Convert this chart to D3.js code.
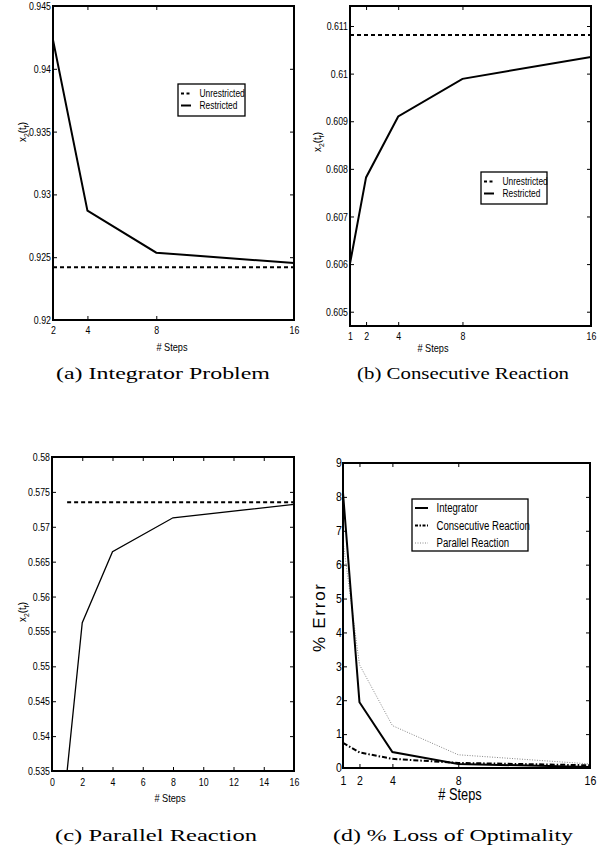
<!DOCTYPE html>
<html><head><meta charset="utf-8">
<script src="https://cdn.jsdelivr.net/npm/d3@7"></script>
<style>
body{margin:0;background:#fff;}
svg{display:block;}
</style></head>
<body>
<svg id="chart" width="600" height="849"></svg>
<script>
// ---------- DATA ----------
// (a) Integrator Problem
const stepsA = [2, 4, 8, 16];
const restrictedA = [0.9423, 0.9287, 0.92536, 0.92454];
const unrestrictedA = [0.9242, 0.9242];
const unrestrictedStepsA = [2, 16];
const xTicksA = [2, 4, 8, 16];
const yTicksA = [0.92, 0.925, 0.93, 0.935, 0.94, 0.945];
const yTickLabelsA = ["0.92", "0.925", "0.93", "0.935", "0.94", "0.945"];

// (b) Consecutive Reaction
const stepsB = [1, 2, 4, 8, 16];
const restrictedB = [0.60601, 0.60782, 0.6091, 0.60989, 0.61035];
const unrestrictedB = [0.61081, 0.61081];
const unrestrictedStepsB = [1, 16];
const xTicksB = [1, 2, 4, 8, 16];
const yTicksB = [0.605, 0.606, 0.607, 0.608, 0.609, 0.61, 0.611];
const yTickLabelsB = ["0.605", "0.606", "0.607", "0.608", "0.609", "0.61", "0.611"];

// (c) Parallel Reaction
const stepsC = [1, 2, 4, 8, 16];
const restrictedC = [0.535, 0.55625, 0.56642, 0.57129, 0.57321];
const unrestrictedC = [0.5735, 0.5735];
const unrestrictedStepsC = [1, 16];
const xTicksC = [0, 2, 4, 6, 8, 10, 12, 14, 16];
const yTicksC = [0.535, 0.54, 0.545, 0.55, 0.555, 0.56, 0.565, 0.57, 0.575, 0.58];
const yTickLabelsC = ["0.535", "0.54", "0.545", "0.55", "0.555", "0.56", "0.565", "0.57", "0.575", "0.58"];

// (d) % Loss of Optimality
const stepsD = [1, 2, 4, 8, 16];
const errIntegrator = [8.12, 1.94, 0.47, 0.12, 0.03];
const errConsecutive = [0.74, 0.46, 0.27, 0.15, 0.08];
const errParallel = [6.7, 3.05, 1.25, 0.39, 0.12];
const xTicksD = [1, 2, 4, 8, 16];
const yTicksD = [0, 1, 2, 3, 4, 5, 6, 7, 8, 9];

const legendAB = ["Unrestricted", "Restricted"];
const legendD = ["Integrator", "Consecutive Reaction", "Parallel Reaction"];
const captions = ["(a)  Integrator Problem", "(b)  Consecutive Reaction", "(c)  Parallel Reaction", "(d)  % Loss of Optimality"];

// ---------- DRAWING ----------
const svg = d3.select("#chart");
const SANS = "'Liberation Sans',Arial,sans-serif";
const SERIF = "'Liberation Serif','Times New Roman',serif";

// condense text horizontally (Helvetica-Narrow look)
function narrow(sel, f) {
  sel.each(function () {
    const w = this.getComputedTextLength();
    if (w > 0) d3.select(this).attr("textLength", w * f).attr("lengthAdjust", "spacingAndGlyphs");
  });
}

function panel(cfg) {
  const g = svg.append("g");
  const x = d3.scaleLinear().domain(cfg.xDomain).range([cfg.left, cfg.right]);
  const y = d3.scaleLinear().domain(cfg.yDomain).range([cfg.bottom, cfg.top]);
  const clipId = "clip" + cfg.id;
  svg.append("clipPath").attr("id", clipId).append("rect")
    .attr("x", cfg.left).attr("y", cfg.top)
    .attr("width", cfg.right - cfg.left).attr("height", cfg.bottom - cfg.top);

  const tickSize = cfg.tickSizeFont || 11;
  const nf = cfg.narrowF || 0.8;

  // left axis
  const yLab = cfg.yTickLabels;
  const ax = g.append("g").attr("transform", `translate(${cfg.left},0)`)
    .call(d3.axisLeft(y).tickValues(cfg.yTicks).tickSize(-4).tickPadding(cfg.yPad || 2)
      .tickFormat((d, i) => yLab ? yLab[i] : d3.format("d")(d)));
  ax.select(".domain").remove();
  ax.selectAll("text").attr("font-family", SANS).attr("font-size", tickSize).attr("fill", "#000");
  narrow(ax.selectAll("text"), nf);
  ax.selectAll("line").attr("stroke", "#000").attr("stroke-width", 1);
  // right ticks
  const axr = g.append("g").attr("transform", `translate(${cfg.right},0)`)
    .call(d3.axisRight(y).tickValues(cfg.yTicks).tickSize(-4).tickFormat(""));
  axr.select(".domain").remove();
  axr.selectAll("line").attr("stroke", "#000");
  // bottom axis
  const bx = g.append("g").attr("transform", `translate(0,${cfg.bottom})`)
    .call(d3.axisBottom(x).tickValues(cfg.xTicks).tickSize(-4).tickPadding(cfg.xPad || 5)
      .tickFormat(d3.format("d")));
  bx.select(".domain").remove();
  bx.selectAll("text").attr("font-family", SANS).attr("font-size", tickSize).attr("fill", "#000");
  narrow(bx.selectAll("text"), nf);
  bx.selectAll("line").attr("stroke", "#000");
  // top ticks
  const tx = g.append("g").attr("transform", `translate(0,${cfg.top})`)
    .call(d3.axisTop(x).tickValues(cfg.xTicks).tickSize(-4).tickFormat(""));
  tx.select(".domain").remove();
  tx.selectAll("line").attr("stroke", "#000");

  // series
  const lineGen = d3.line().x(d => x(d[0])).y(d => y(d[1]));
  const lg = g.append("g").attr("clip-path", `url(#${clipId})`);
  cfg.series.forEach(s => {
    lg.append("path").datum(s.xs.map((v, i) => [v, s.ys[i]]))
      .attr("d", lineGen).attr("fill", "none")
      .attr("stroke", s.color || "#000").attr("stroke-width", s.width)
      .attr("stroke-dasharray", s.dash || null)
      .attr("stroke-linejoin", "miter");
  });

  // frame
  g.append("rect").attr("x", cfg.left).attr("y", cfg.top)
    .attr("width", cfg.right - cfg.left).attr("height", cfg.bottom - cfg.top)
    .attr("fill", "none").attr("stroke", "#000").attr("stroke-width", 2);

  // x label
  const xl = g.append("text").attr("x", cfg.xLabelX).attr("y", cfg.xLabelY)
    .attr("text-anchor", "middle").attr("font-family", SANS)
    .attr("font-size", cfg.xLabelSize || 11.5).text("# Steps");
  narrow(xl, 0.8);

  // y label
  if (cfg.yLabel === "x2tf") {
    const t = g.append("text")
      .attr("transform", `translate(${cfg.yLabelX},${cfg.yLabelY}) rotate(-90) scale(0.85,1)`)
      .attr("text-anchor", "middle").attr("font-family", SANS).attr("font-size", 11.5);
    t.append("tspan").text("x");
    t.append("tspan").attr("dy", 3).attr("font-size", 8).text("2");
    t.append("tspan").attr("dy", -3).text("(t");
    t.append("tspan").attr("dy", 3).attr("font-size", 8).text("f");
    t.append("tspan").attr("dy", -3).text(")");
  } else {
    g.append("text")
      .attr("transform", `translate(${cfg.yLabelX},${cfg.yLabelY}) rotate(-90)`)
      .attr("text-anchor", "middle").attr("font-family", SANS).attr("font-size", 17)
      .attr("textLength", 68).attr("lengthAdjust", "spacing")
      .text(cfg.yLabel);
  }

  // legend
  if (cfg.legend) {
    const L = cfg.legend;
    g.append("rect").attr("x", L.x).attr("y", L.y).attr("width", L.w).attr("height", L.h)
      .attr("fill", "#fff").attr("stroke", "#000").attr("stroke-width", 1.3);
    L.items.forEach((it, i) => {
      const yy = L.y + L.first + i * L.step;
      g.append("line").attr("x1", L.x + L.s1).attr("x2", L.x + L.s2)
        .attr("y1", yy).attr("y2", yy)
        .attr("stroke", it.color || "#000").attr("stroke-width", it.width)
        .attr("stroke-dasharray", it.dash || null);
      const tt = g.append("text").attr("x", L.x + L.tx).attr("y", yy + L.fs * 0.36)
        .attr("font-family", SANS).attr("font-size", L.fs).text(it.label);
      narrow(tt, 0.8);
    });
  }

  // caption
  g.append("text").attr("x", cfg.capX).attr("y", cfg.capY)
    .attr("font-family", SERIF).attr("font-size", 16.5)
    .attr("textLength", cfg.capW).attr("lengthAdjust", "spacingAndGlyphs")
    .text(cfg.caption);
}

panel({
  id: "a", left: 53, right: 294, top: 6, bottom: 320,
  xDomain: [2, 16], yDomain: [0.92, 0.945],
  xTicks: xTicksA, yTicks: yTicksA, yTickLabels: yTickLabelsA, xPad: 6,
  series: [
    {xs: unrestrictedStepsA, ys: unrestrictedA, width: 2, dash: "4,3"},
    {xs: stepsA, ys: restrictedA, width: 2}
  ],
  xLabelX: 172, xLabelY: 351, yLabel: "x2tf", yLabelX: 26, yLabelY: 132,
  legend: {x: 178, y: 84, w: 67, h: 32, first: 9.5, step: 12, s1: 3, s2: 13, tx: 21.5, fs: 10.5,
    items: [{label: legendAB[0], width: 2, dash: "3,2.5"}, {label: legendAB[1], width: 2}]},
  caption: captions[0], capX: 56, capY: 378.5, capW: 214
});

panel({
  id: "b", left: 350, right: 591, top: 6, bottom: 326,
  xDomain: [1, 16], yDomain: [0.6047, 0.61142],
  xTicks: xTicksB, yTicks: yTicksB, yTickLabels: yTickLabelsB, xPad: 6.5,
  series: [
    {xs: unrestrictedStepsB, ys: unrestrictedB, width: 2, dash: "4,3"},
    {xs: stepsB, ys: restrictedB, width: 2}
  ],
  xLabelX: 433, xLabelY: 352, yLabel: "x2tf", yLabelX: 321, yLabelY: 142,
  legend: {x: 481, y: 172, w: 66, h: 32, first: 9.5, step: 12, s1: 3, s2: 13, tx: 21.5, fs: 10.5,
    items: [{label: legendAB[0], width: 2, dash: "3,2.5"}, {label: legendAB[1], width: 2}]},
  caption: captions[1], capX: 357, capY: 378.5, capW: 212
});

panel({
  id: "c", left: 52, right: 294, top: 457, bottom: 771,
  xDomain: [0, 16], yDomain: [0.535, 0.58],
  xTicks: xTicksC, yTicks: yTicksC, yTickLabels: yTickLabelsC, xPad: 7.5,
  series: [
    {xs: unrestrictedStepsC, ys: unrestrictedC, width: 2, dash: "4,3"},
    {xs: stepsC, ys: restrictedC, width: 1.3}
  ],
  xLabelX: 170, xLabelY: 802, yLabel: "x2tf", yLabelX: 26, yLabelY: 612,
  caption: captions[2], capX: 55, capY: 840.5, capW: 202
});

panel({
  id: "d", left: 343, right: 590, top: 463, bottom: 768,
  xDomain: [1, 16], yDomain: [0, 9],
  xTicks: xTicksD, yTicks: yTicksD, tickSizeFont: 12, narrowF: 0.88, yPad: 1, xPad: 8,
  series: [
    {xs: stepsD, ys: errParallel, width: 1, dash: "1,1.5", color: "#888"},
    {xs: stepsD, ys: errConsecutive, width: 2, dash: "5,2,1.5,2"},
    {xs: stepsD, ys: errIntegrator, width: 2}
  ],
  xLabelX: 460, xLabelY: 800, xLabelSize: 16, yLabel: "% Error", yLabelX: 325, yLabelY: 618,
  legend: {x: 412, y: 499, w: 116, h: 52, first: 9, step: 17.5, s1: 3, s2: 16, tx: 24.5, fs: 12,
    items: [{label: legendD[0], width: 2},
            {label: legendD[1], width: 2, dash: "3,1.5,1.5,1.5"},
            {label: legendD[2], width: 1, dash: "1,1.5", color: "#888"}]},
  caption: captions[3], capX: 333, capY: 840.5, capW: 240
});
</script>
</body></html>
